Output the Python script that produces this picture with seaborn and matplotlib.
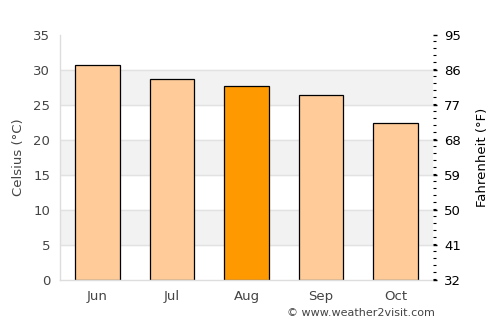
import matplotlib
matplotlib.use('Agg')
import matplotlib.pyplot as plt
import matplotlib.ticker as ticker
import numpy as np
import pandas as pd
import seaborn as sns

# Monthly average high temperatures (Celsius)
months = ['Jun', 'Jul', 'Aug', 'Sep', 'Oct']
celsius = [30.8, 28.8, 27.7, 26.5, 22.5]
highlight = 'Aug'

celsius_ticks = [0, 5, 10, 15, 20, 25, 30, 35]
fahrenheit_ticks = [32, 41, 50, 59, 68, 77, 86, 95]

TEXT = '#444444'
LIGHT, DARK = '#ffcc99', '#ff9900'


def main():
    sns.set_style('white')
    plt.rcParams['font.family'] = ['DejaVu Sans']

    data = pd.DataFrame({'month': months, 'celsius': celsius})
    palette = {m: (DARK if m == highlight else LIGHT) for m in months}

    figure = plt.figure(figsize=(5, 3.25), dpi=100)
    axis = figure.add_axes([0.12, 0.138, 0.746, 0.754])

    # Alternating background bands
    for low in range(5, 35, 10):
        axis.axhspan(low, low + 5, color='#f2f2f2', zorder=0)
    for y in celsius_ticks[1:-1]:
        axis.axhline(y, color='#e2e2e2', linewidth=1, zorder=0.5)

    sns.barplot(data=data, x='month', y='celsius', hue='month', palette=palette,
                legend=False, width=0.6, edgecolor='black', linewidth=0.9,
                saturation=1, ax=axis, zorder=2)

    axis.set_ylim(0, 35)
    axis.set_xlim(-0.5, len(months) - 0.5)
    axis.set_yticks(celsius_ticks)
    axis.set_xlabel('')
    axis.set_ylabel('Celsius (°C)', color=TEXT, fontsize=9.5, labelpad=6)
    axis.tick_params(axis='both', length=0, colors=TEXT, labelsize=9.5, pad=7)
    for side in ['top', 'right']:
        axis.spines[side].set_visible(False)
    for side in ['left', 'bottom']:
        axis.spines[side].set_color('#dddddd')
        axis.spines[side].set_linewidth(1)

    # Fahrenheit axis on the right
    right = axis.twinx()
    right.set_ylim(32, 95)
    right.set_yticks(fahrenheit_ticks)
    right.yaxis.set_minor_locator(ticker.MultipleLocator(1.8))
    right.tick_params(axis='y', which='major', length=3, width=1, colors='black',
                      labelcolor='black', labelsize=9.5, pad=5)
    right.tick_params(axis='y', which='minor', length=2.5, width=0.8, colors='black')
    right.set_ylabel('Fahrenheit (°F)', color='black', fontsize=9.5, labelpad=11)
    for side in right.spines:
        right.spines[side].set_visible(False)

    figure.text(0.87, 0.022, '© www.weather2visit.com', ha='right', va='bottom',
                fontsize=8, color=TEXT)

    plt.savefig('out.png', dpi=100)
    plt.close()


if __name__ == '__main__':
    main()
